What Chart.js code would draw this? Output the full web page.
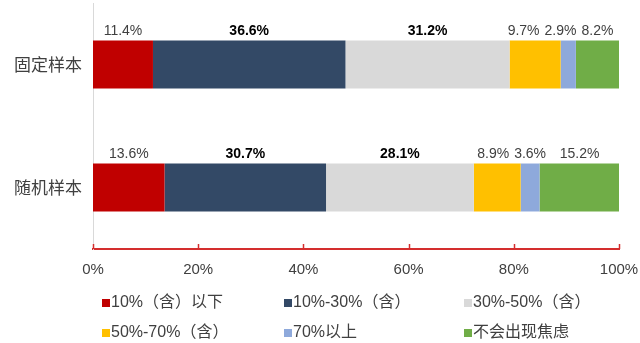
<!DOCTYPE html>
<html><head><meta charset="utf-8">
<script src="https://cdn.jsdelivr.net/npm/chart.js@4"></script>
<style>html,body{margin:0;padding:0;background:#fff}#wrap{width:640px;height:343px;position:relative}</style>
</head><body><div id="wrap"><canvas id="c" width="640" height="343"></canvas></div>
<script>
const categories = ['固定样本', '随机样本'];
const seriesNames = ['10%（含）以下', '10%-30%（含）', '30%-50%（含）', '50%-70%（含）', '70%以上', '不会出现焦虑'];
const s1 = [11.4, 13.6];
const s2 = [36.6, 30.7];
const s3 = [31.2, 28.1];
const s4 = [9.7, 8.9];
const s5 = [2.9, 3.6];
const s6 = [8.2, 15.2];
const xTicks = [0, 20, 40, 60, 80, 100];

const colors = ['#C00000', '#334966', '#D9D9D9', '#FFC000', '#8EA9DB', '#70AD47'];
const boldSeries = [false, true, true, false, false, false];
const FONT = '"Liberation Sans", "Noto Sans CJK SC", sans-serif';
const CJK = '"Noto Sans CJK SC", "Liberation Sans", sans-serif';

const seriesData = [s1, s2, s3, s4, s5, s6];
const datasets = seriesData.map((d, i) => ({
  label: seriesNames[i], data: d, backgroundColor: colors[i],
  borderWidth: 0, barPercentage: 0.78, categoryPercentage: 0.5
}));

const labelPlugin = {
  id: 'labels',
  afterDatasetsDraw(chart) {
    const ctx = chart.ctx;
    const xs = chart.scales.x;
    categories.forEach((cat, ci) => {
      const items = [];
      let cum = 0;
      chart.data.datasets.forEach((ds, di) => {
        const v = ds.data[ci];
        const bar = chart.getDatasetMeta(di).data[ci];
        const center = xs.getPixelForValue(cum + v / 2);
        cum += v;
        ctx.font = (boldSeries[di] ? 'bold ' : '') + '14px ' + FONT;
        const txt = v.toFixed(1) + '%';
        const w = ctx.measureText(txt).width;
        items.push({txt, w, x: center, bold: boldSeries[di], top: bar.y - bar.height / 2});
      });
      for (let k = items.length - 2; k >= 0; k--) {
        const r = items[k + 1];
        const maxX = r.x - r.w / 2 - 5 - items[k].w / 2;
        if (items[k].x > maxX) items[k].x = maxX;
      }
      items.forEach(it => {
        ctx.save();
        ctx.font = (it.bold ? 'bold ' : '') + '14px ' + FONT;
        ctx.fillStyle = it.bold ? '#000000' : '#404040';
        ctx.textAlign = 'center';
        ctx.textBaseline = 'middle';
        ctx.fillText(it.txt, it.x, it.top - 9);
        ctx.restore();
      });
    });
  }
};

const axisPlugin = {
  id: 'axisDeco',
  afterDraw(chart) {
    const ctx = chart.ctx;
    const xs = chart.scales.x;
    const a = chart.chartArea;
    ctx.save();
    ctx.strokeStyle = '#D42E2E';
    ctx.lineWidth = 1.5;
    xTicks.forEach(t => {
      const px = Math.round(xs.getPixelForValue(t)) + 0.5;
      ctx.beginPath();
      ctx.moveTo(px, a.bottom);
      ctx.lineTo(px, a.bottom - 5);
      ctx.stroke();
    });
    ctx.restore();
    const cols = [102, 284, 464];
    const rows = [303, 333];
    ctx.save();
    ctx.font = '16px ' + FONT;
    ctx.textBaseline = 'middle';
    chart.data.datasets.forEach((ds, i) => {
      const x = cols[i % 3], y = rows[Math.floor(i / 3)];
      ctx.fillStyle = ds.backgroundColor;
      ctx.fillRect(x, y - 4, 8, 8);
      ctx.fillStyle = '#404040';
      ctx.fillText(ds.label, x + 9, y);
    });
    ctx.restore();
  }
};

new Chart(document.getElementById('c'), {
  type: 'bar',
  data: { labels: categories, datasets },
  options: {
    indexAxis: 'y',
    responsive: false,
    animation: false,
    layout: { padding: { top: 3, right: 21, left: 0, bottom: 0 } },
    plugins: { legend: { display: false }, tooltip: { enabled: false } },
    scales: {
      x: {
        stacked: true, min: 0, max: 100,
        afterBuildTicks(scale) { scale.ticks = xTicks.map(v => ({ value: v })); },
        afterFit(scale) { scale.height = 94; scale.paddingLeft = 0; scale.paddingRight = 0; },
        ticks: { callback: v => v + '%', color: '#404040', padding: 12, maxRotation: 0,
          font: { family: FONT, size: 15 } },
        grid: { display: false, drawTicks: false },
        border: { display: true, color: '#D42E2E', width: 2 }
      },
      y: {
        stacked: true,
        afterFit(scale) { scale.width = 93; scale.paddingTop = 0; scale.paddingBottom = 0; },
        ticks: { color: '#404040', padding: 11, font: { family: CJK, size: 17 } },
        grid: { display: false, drawTicks: false },
        border: { display: true, color: '#D9D9D9', width: 1 }
      }
    }
  },
  plugins: [labelPlugin, axisPlugin]
});
</script></body></html>
